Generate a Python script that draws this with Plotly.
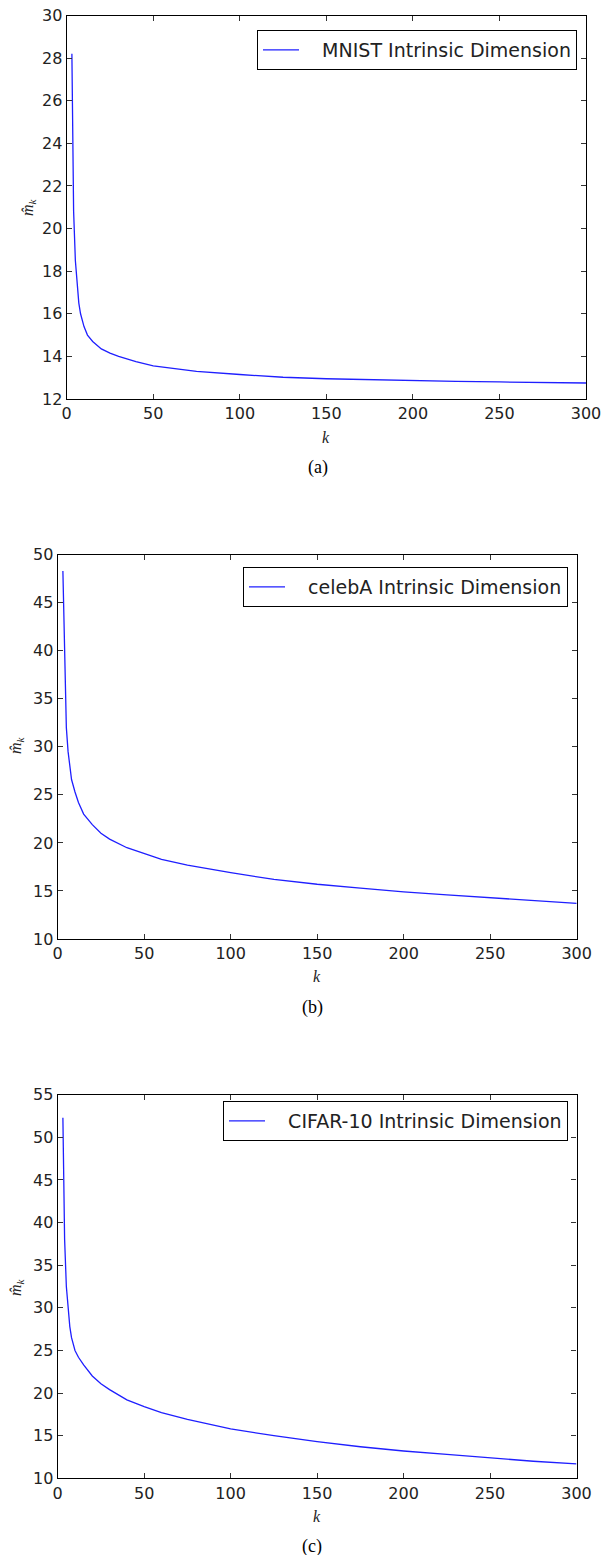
import plotly.graph_objects as go

k_vals = [3, 4, 5, 6, 7, 8, 10, 12, 15, 20, 25, 30, 40, 50, 60, 75, 100, 125, 150, 175, 200, 225, 250, 275, 300]

mnist = [28.2, 20.8, 18.5, 17.3, 16.5, 16.0, 15.4, 15.0, 14.7, 14.35, 14.15, 14.0, 13.75, 13.55, 13.45, 13.3,
         13.15, 13.02, 12.95, 12.9, 12.86, 12.83, 12.8, 12.77, 12.75]
celeba = [48.3, 38.0, 32.0, 29.5, 27.8, 26.6, 25.3, 24.2, 23.0, 21.9, 21.0, 20.4, 19.5, 18.9, 18.3, 17.7,
          16.9, 16.2, 15.7, 15.3, 14.9, 14.6, 14.3, 14.0, 13.7]
cifar = [52.3, 38.0, 32.5, 29.5, 27.8, 26.5, 25.0, 24.2, 23.3, 22.0, 21.1, 20.4, 19.2, 18.4, 17.7, 16.9,
         15.8, 15.0, 14.3, 13.7, 13.2, 12.8, 12.4, 12.0, 11.7]

names = ["MNIST Intrinsic Dimension", "celebA Intrinsic Dimension", "CIFAR-10 Intrinsic Dimension"]
captions = ["(a)", "(b)", "(c)"]
y_ranges = [[12, 30], [10, 50], [10, 55]]
y_dticks = [2, 5, 5]

W, H = 603, 1555
# pixel boxes: left, right, top, bottom
boxes = [(66.7, 586, 15.5, 399), (57.7, 576.7, 554.7, 939), (57.7, 576.5, 1094.7, 1478.3)]
legend_pos = [(577, 30), (568, 567), (568, 1101)]
klabel_pos = [(326, 437), (317, 977), (317, 1516)]
cap_pos = [(318, 467), (312, 1007), (312, 1546)]
ylab_pos = [(28, 207), (16, 745), (16, 1287)]

def py(p):
    return 1 - p / H

def px(p):
    return p / W

fig = go.Figure()
series = [mnist, celeba, cifar]
annotations = []
layout_kw = {}
for i in range(3):
    sfx = "" if i == 0 else str(i + 1)
    leg = "legend" if i == 0 else f"legend{i+1}"
    fig.add_trace(go.Scatter(x=k_vals, y=series[i], mode="lines", name="\u00a0\u00a0\u00a0" + names[i],
                             line=dict(color="#1f1fff", width=1.3),
                             xaxis="x" + sfx, yaxis="y" + sfx, legend=leg, showlegend=True))
    l, r, t, b = boxes[i]
    axis_common = dict(showline=True, linecolor="black", linewidth=1.3, mirror="ticks",
                       ticks="inside", ticklen=5, tickcolor="#333", tickwidth=1,
                       showgrid=False, zeroline=False, automargin=False,
                       tickfont=dict(family="DejaVu Sans", size=16, color="#222"))
    layout_kw["xaxis" + sfx] = dict(axis_common, domain=[px(l), px(r)], range=[0, 300], dtick=50, tick0=0,
                                    anchor="y" + sfx)
    layout_kw["yaxis" + sfx] = dict(axis_common, domain=[py(b), py(t)], range=y_ranges[i], dtick=y_dticks[i],
                                    anchor="x" + sfx)
    lx, ly = legend_pos[i]
    layout_kw[leg] = dict(x=px(lx), y=py(ly), xanchor="right", yanchor="top",
                          bordercolor="black", borderwidth=1, bgcolor="white",
                          font=dict(family="DejaVu Sans", size=19, color="#222"),
                          itemwidth=36, tracegroupgap=0)
    kx, ky = klabel_pos[i]
    annotations.append(dict(text="<i>k</i>", x=px(kx), y=py(ky), xref="paper", yref="paper",
                            showarrow=False, xanchor="center", yanchor="middle",
                            font=dict(family="Liberation Serif", size=16, color="#222")))
    cx, cy = cap_pos[i]
    annotations.append(dict(text=captions[i], x=px(cx), y=py(cy), xref="paper", yref="paper",
                            showarrow=False, xanchor="center", yanchor="middle",
                            font=dict(family="Liberation Serif", size=18, color="black")))
    yx, yy = ylab_pos[i]
    annotations.append(dict(text="<i>m̂</i><sub><i>k</i></sub>", x=px(yx), y=py(yy), xref="paper", yref="paper",
                            showarrow=False, xanchor="center", yanchor="middle", textangle=-90,
                            font=dict(family="Liberation Serif", size=16, color="#222")))

fig.update_layout(width=W, height=H, margin=dict(l=0, r=0, t=0, b=0, autoexpand=False),
                  paper_bgcolor="white", plot_bgcolor="white",
                  annotations=annotations, **layout_kw)
fig.write_html("out.html",
               post_script="document.body.style.margin='0px';document.body.style.overflow='hidden';")
